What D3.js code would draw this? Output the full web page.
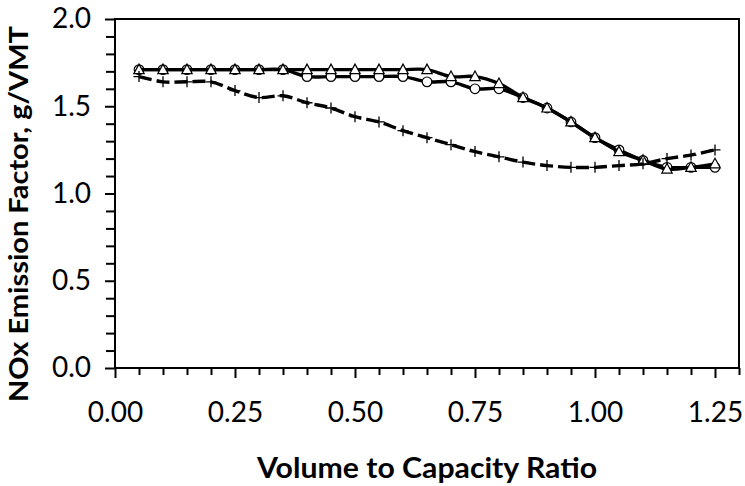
<!DOCTYPE html>
<html>
<head>
<meta charset="utf-8">
<script src="https://cdn.jsdelivr.net/npm/d3@7"></script>
<style>
  body { margin: 0; background: #fff; }
  text { font-family: Lato, "Open Sans", sans-serif; fill: #000; }
</style>
</head>
<body>
<div id="chart"></div>
<script>
// data
var vcRatio = [0.05, 0.10, 0.15, 0.20, 0.25, 0.30, 0.35, 0.40, 0.45, 0.50, 0.55, 0.60, 0.65,
               0.70, 0.75, 0.80, 0.85, 0.90, 0.95, 1.00, 1.05, 1.10, 1.15, 1.20, 1.25];

var circleSeries = [1.71, 1.71, 1.71, 1.71, 1.71, 1.71, 1.71, 1.67, 1.67, 1.67, 1.67, 1.67, 1.64,
                    1.64, 1.60, 1.60, 1.55, 1.49, 1.41, 1.32, 1.25, 1.19, 1.15, 1.15, 1.15];

var triangleSeries = [1.71, 1.71, 1.71, 1.71, 1.71, 1.71, 1.71, 1.71, 1.71, 1.71, 1.71, 1.71, 1.71,
                      1.67, 1.67, 1.63, 1.55, 1.49, 1.41, 1.32, 1.24, 1.19, 1.14, 1.15, 1.17];

var crossSeries = [1.67, 1.64, 1.64, 1.64, 1.59, 1.55, 1.56, 1.52, 1.49, 1.44, 1.41, 1.36, 1.32,
                   1.28, 1.24, 1.21, 1.18, 1.16, 1.15, 1.15, 1.16, 1.17, 1.20, 1.22, 1.25];

var xTickLabels = ["0.00", "0.25", "0.50", "0.75", "1.00", "1.25"];
var yTickLabels = ["0.0", "0.5", "1.0", "1.5", "2.0"];

var svgWidth = 745;
var svgHeight = 486;

var x0 = 115, x1 = 739, y0 = 368, y1 = 19;

var svg = d3.select("#chart")
  .append("svg")
  .attr("width", svgWidth)
  .attr("height", svgHeight);

var xScale = d3.scaleLinear().domain([0, 1.3]).range([x0, x1]);
var yScale = d3.scaleLinear().domain([0, 2]).range([y0, y1]);

// plot frame
svg.append("rect")
  .attr("x", x0)
  .attr("y", y1)
  .attr("width", x1 - x0)
  .attr("height", y0 - y1)
  .attr("fill", "none")
  .attr("stroke", "#000")
  .attr("stroke-width", 2);

// minor ticks
var xMinor = d3.range(1, 27).map(d => d * 0.05).filter((d, i) => (i + 1) % 5 !== 0);
var yMinor = d3.range(1, 20).map(d => d * 0.1).filter((d, i) => (i + 1) % 5 !== 0);

var xMinorAxis = d3.axisBottom(xScale).tickValues(xMinor).tickSize(7).tickFormat("");
var yMinorAxis = d3.axisLeft(yScale).tickValues(yMinor).tickSize(9).tickFormat("");

svg.append("g")
  .attr("transform", `translate(0, ${y0})`)
  .call(xMinorAxis);

svg.append("g")
  .attr("transform", `translate(${x0}, 0)`)
  .call(yMinorAxis);

// major ticks
var xAxis = d3.axisBottom(xScale)
  .tickValues(xTickLabels.map(Number))
  .tickSize(10)
  .tickPadding(24)
  .tickFormat((d, i) => xTickLabels[i]);

var yAxis = d3.axisLeft(yScale)
  .tickValues(yTickLabels.map(Number))
  .tickSize(10)
  .tickPadding(14)
  .tickFormat((d, i) => yTickLabels[i]);

svg.append("g")
  .attr("transform", `translate(0, ${y0})`)
  .call(xAxis);

svg.append("g")
  .attr("transform", `translate(${x0}, 0)`)
  .call(yAxis);

svg.selectAll(".domain").remove();
svg.selectAll(".tick line").attr("stroke", "#000").attr("stroke-width", 2);
svg.selectAll(".tick text")
  .attr("font-size", 28)
  .attr("font-family", "Lato, sans-serif")
  .attr("fill", "#000");

// series
var line = d3.line()
  .x((d, i) => xScale(vcRatio[i]))
  .y(d => yScale(d))
  .curve(d3.curveCatmullRom.alpha(0.5));

function drawSeries(values, dashed, marker) {
  svg.append("path")
    .datum(values)
    .attr("d", line)
    .attr("fill", "none")
    .attr("stroke", "#000")
    .attr("stroke-width", 3.4)
    .attr("stroke-dasharray", dashed ? "13,5" : null);

  var pts = svg.append("g")
    .selectAll("g")
    .data(values)
    .enter()
    .append("g")
    .attr("transform", (d, i) => `translate(${xScale(vcRatio[i])}, ${yScale(d)})`);

  if (marker === "circle") {
    pts.append("circle")
      .attr("r", 4.8)
      .attr("fill", "#fff")
      .attr("stroke", "#000")
      .attr("stroke-width", 1.2);
  } else if (marker === "triangle") {
    pts.append("path")
      .attr("d", "M0,-5.5L5.2,4L-5.2,4Z")
      .attr("fill", "#fff")
      .attr("stroke", "#000")
      .attr("stroke-width", 1.2);
  } else {
    pts.append("path")
      .attr("d", "M-5.5,0H5.5M0,-5.5V5.5")
      .attr("stroke", "#000")
      .attr("stroke-width", 1.3);
  }
}

drawSeries(circleSeries, false, "circle");
drawSeries(triangleSeries, false, "triangle");
drawSeries(crossSeries, true, "cross");

// axis titles
svg.append("text")
  .attr("x", (x0 + x1) / 2)
  .attr("y", 478)
  .attr("text-anchor", "middle")
  .attr("font-size", 28)
  .attr("font-weight", "bold")
  .attr("textLength", 340)
  .attr("lengthAdjust", "spacingAndGlyphs")
  .text("Volume to Capacity Ratio");

svg.append("text")
  .attr("transform", "translate(28, 214) rotate(-90)")
  .attr("text-anchor", "middle")
  .attr("font-size", 26)
  .attr("font-weight", "bold")
  .attr("textLength", 376)
  .attr("lengthAdjust", "spacingAndGlyphs")
  .text("NOx Emission Factor, g/VMT");
</script>
</body>
</html>
